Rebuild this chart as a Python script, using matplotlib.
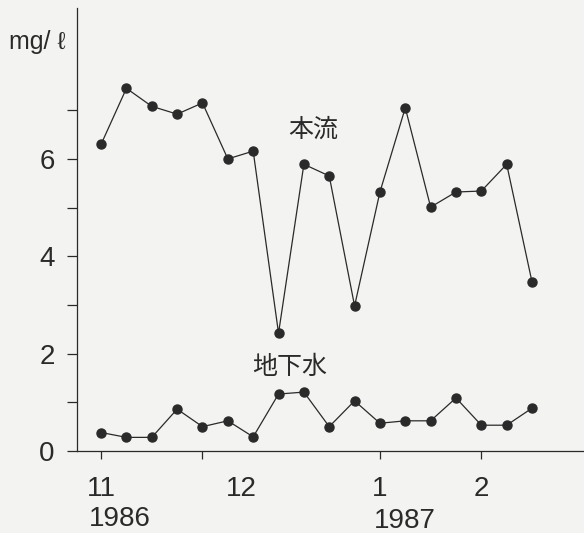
import matplotlib
matplotlib.use("Agg")
import matplotlib.pyplot as plt
import numpy as np

# Weekly samples, Nov 1986 - Feb 1987 (mg/l)
main_stream = [6.3, 7.45, 7.08, 6.92, 7.15, 6.0, 6.16, 2.42, 5.89, 5.65,
               2.98, 5.32, 7.05, 5.01, 5.32, 5.34, 5.89, 3.47]
groundwater = [0.38, 0.28, 0.28, 0.86, 0.5, 0.62, 0.29, 1.17, 1.21, 0.5,
               1.03, 0.57, 0.62, 0.62, 1.09, 0.53, 0.53, 0.88]
month_ticks = [0, 4, 11, 15]
month_labels = ["11", "", "1", "2"]
extra_month = (5.55, "12")
year_labels = [(0.75, "1986"), (12.0, "1987")]
series_names = ["本流", "地下水"]

bg = "#f3f3f1"
ink = "#2a2a2a"
num_font = ["Liberation Sans", "DejaVu Sans"]
cjk_font = ["Noto Sans CJK JP", "DejaVu Sans"]

fig = plt.figure(figsize=(5.84, 5.33), dpi=100, facecolor=bg)
ax = fig.add_axes([77 / 584, 1 - 451 / 533, 1 - 77 / 584, (451 - 8) / 533])
ax.set_facecolor(bg)

x = np.arange(len(main_stream))
for ys in (main_stream, groundwater):
    ax.plot(x, ys, color=ink, lw=0.9, marker="o", ms=6.5,
            mfc=ink, mec=ink, clip_on=False)

ax.set_xlim(-0.95, 19.05)
ax.set_ylim(0, 9.1)

for s in ("top", "right"):
    ax.spines[s].set_visible(False)
for s in ("left", "bottom"):
    ax.spines[s].set_color(ink)
    ax.spines[s].set_linewidth(0.9)

ax.set_yticks([0, 2, 4, 6])
ax.set_yticks([1, 3, 5, 7], minor=True)
ax.tick_params(axis="y", which="both", direction="out", length=7, width=0.9,
               color=ink, labelcolor=ink, pad=9, labelsize=20)
for lab in ax.get_yticklabels():
    lab.set_family(num_font)

ax.set_xticks(month_ticks)
ax.set_xticklabels([""] * len(month_ticks))
ax.tick_params(axis="x", direction="out", length=6, width=0.9, color=ink)

# month and year labels beneath the axis
for xm, lab in list(zip(month_ticks, month_labels)) + [extra_month]:
    if lab:
        ax.annotate(lab, xy=(xm, 0), xytext=(0, -27), textcoords="offset points",
                    ha="center", va="center", fontsize=20, color=ink,
                    family=num_font, annotation_clip=False)
ax.annotate(year_labels[0][1], xy=(year_labels[0][0], 0), xytext=(0, -49),
            textcoords="offset points", ha="center", va="center", fontsize=20,
            color=ink, family=num_font, annotation_clip=False)
ax.annotate(year_labels[1][1], xy=(year_labels[1][0], 0), xytext=(0, -50.5),
            textcoords="offset points", ha="center", va="center", fontsize=20,
            color=ink, family=num_font, annotation_clip=False)

# series names
ax.text(8.35, 6.6, series_names[0], ha="center", va="center", fontsize=18,
        color=ink, family=cjk_font)
ax.text(7.45, 1.72, series_names[1], ha="center", va="center", fontsize=18,
        color=ink, family=cjk_font)

# unit
fig.text(9 / 584, 1 - 42 / 533, "mg/ ℓ", ha="left", va="center", fontsize=18,
         color=ink, family=num_font)

fig.savefig("out.png", dpi=100, facecolor=bg)
